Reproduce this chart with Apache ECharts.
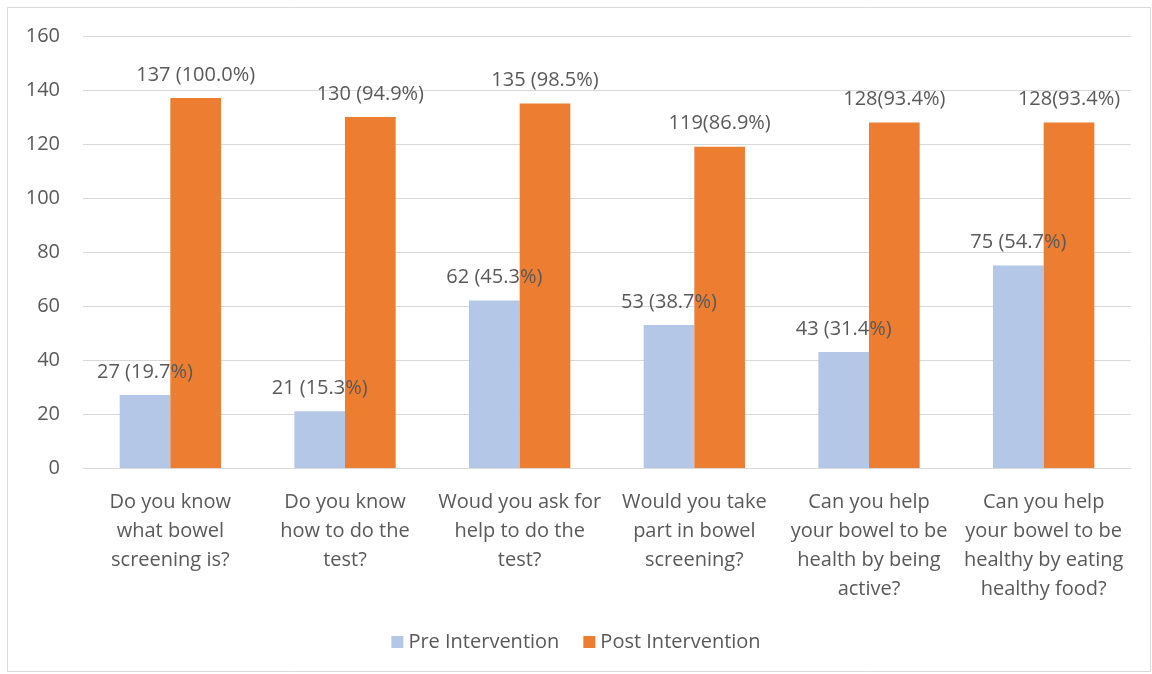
<!DOCTYPE html>
<html lang="en">
<head>
	<meta charset="UTF-8">
	<title>Bowel screening</title>
	<script type="text/javascript" src="https://cdn.jsdelivr.net/npm/echarts@6/dist/echarts.min.js"></script>
	<style>
		html, body { margin: 0; padding: 0; background: #fff; }
	</style>
</head>
<body>
	<div id="main" style="width: 1152px;height: 674px;"></div>
	<script type="text/javascript">
		var categories = [
			'Do you know\nwhat bowel\nscreening is?',
			'Do you know\nhow to do the\ntest?',
			'Woud you ask for\nhelp to do the\ntest?',
			'Would you take\npart in bowel\nscreening?',
			'Can you help\nyour bowel to be\nhealth by being\nactive?',
			'Can you help\nyour bowel to be\nhealthy by eating\nhealthy food?'
		];
		var preValues = [27, 21, 62, 53, 43, 75];
		var postValues = [137, 130, 135, 119, 128, 128];
		var preLabels = ['27 (19.7%)', '21 (15.3%)', '62 (45.3%)', '53 (38.7%)', '43 (31.4%)', '75 (54.7%)'];
		var postLabels = ['137 (100.0%)', '130 (94.9%)', '135 (98.5%)', '119(86.9%)', '128(93.4%)', '128(93.4%)'];

		var textFont = 'Open Sans';
		var textColor = '#595959';
		var textSize = 20;

		var chart = echarts.init(document.getElementById('main'));
		var option = {
			animation: false,
			color: ['#b4c7e7', '#ed7d31'],
			graphic: [{
				type: 'rect',
				shape: { x: 7.5, y: 7.5, width: 1143, height: 664 },
				style: { fill: 'none', stroke: '#d9d9d9', lineWidth: 1 },
				silent: true
			}],
			grid: { left: 83, right: 21, top: 36, bottom: 206 },
			legend: {
				bottom: 17,
				left: 'center',
				itemWidth: 12,
				itemHeight: 12,
				itemGap: 24,
				icon: 'rect',
				textStyle: { fontFamily: textFont, fontSize: textSize, color: textColor },
				data: ['Pre Intervention', 'Post Intervention']
			},
			xAxis: {
				type: 'category',
				data: categories,
				axisLine: { lineStyle: { color: '#d9d9d9', width: 1 } },
				axisTick: { show: false },
				axisLabel: {
					interval: 0,
					margin: 20,
					fontFamily: textFont,
					fontSize: textSize,
					lineHeight: 29,
					color: textColor
				}
			},
			yAxis: {
				type: 'value',
				min: 0,
				max: 160,
				interval: 20,
				axisLine: { show: false },
				axisTick: { show: false },
				splitLine: { lineStyle: { color: '#d9d9d9', width: 1 } },
				axisLabel: {
					margin: 23,
					fontFamily: textFont,
					fontSize: textSize,
					color: textColor
				}
			},
			series: [
				{
					name: 'Pre Intervention',
					type: 'bar',
					data: preValues,
					barWidth: '29%',
					barGap: '0%',
					label: {
						show: true,
						position: 'top',
						distance: 13,
						fontFamily: textFont,
						fontSize: textSize,
						color: textColor,
						formatter: function (p) { return preLabels[p.dataIndex]; }
					}
				},
				{
					name: 'Post Intervention',
					type: 'bar',
					data: postValues,
					barWidth: '29%',
					barGap: '0%',
					label: {
						show: true,
						position: 'top',
						distance: 13,
						fontFamily: textFont,
						fontSize: textSize,
						color: textColor,
						formatter: function (p) { return postLabels[p.dataIndex]; }
					}
				}
			]
		};
		chart.setOption(option);
	</script>
</body>
</html>
